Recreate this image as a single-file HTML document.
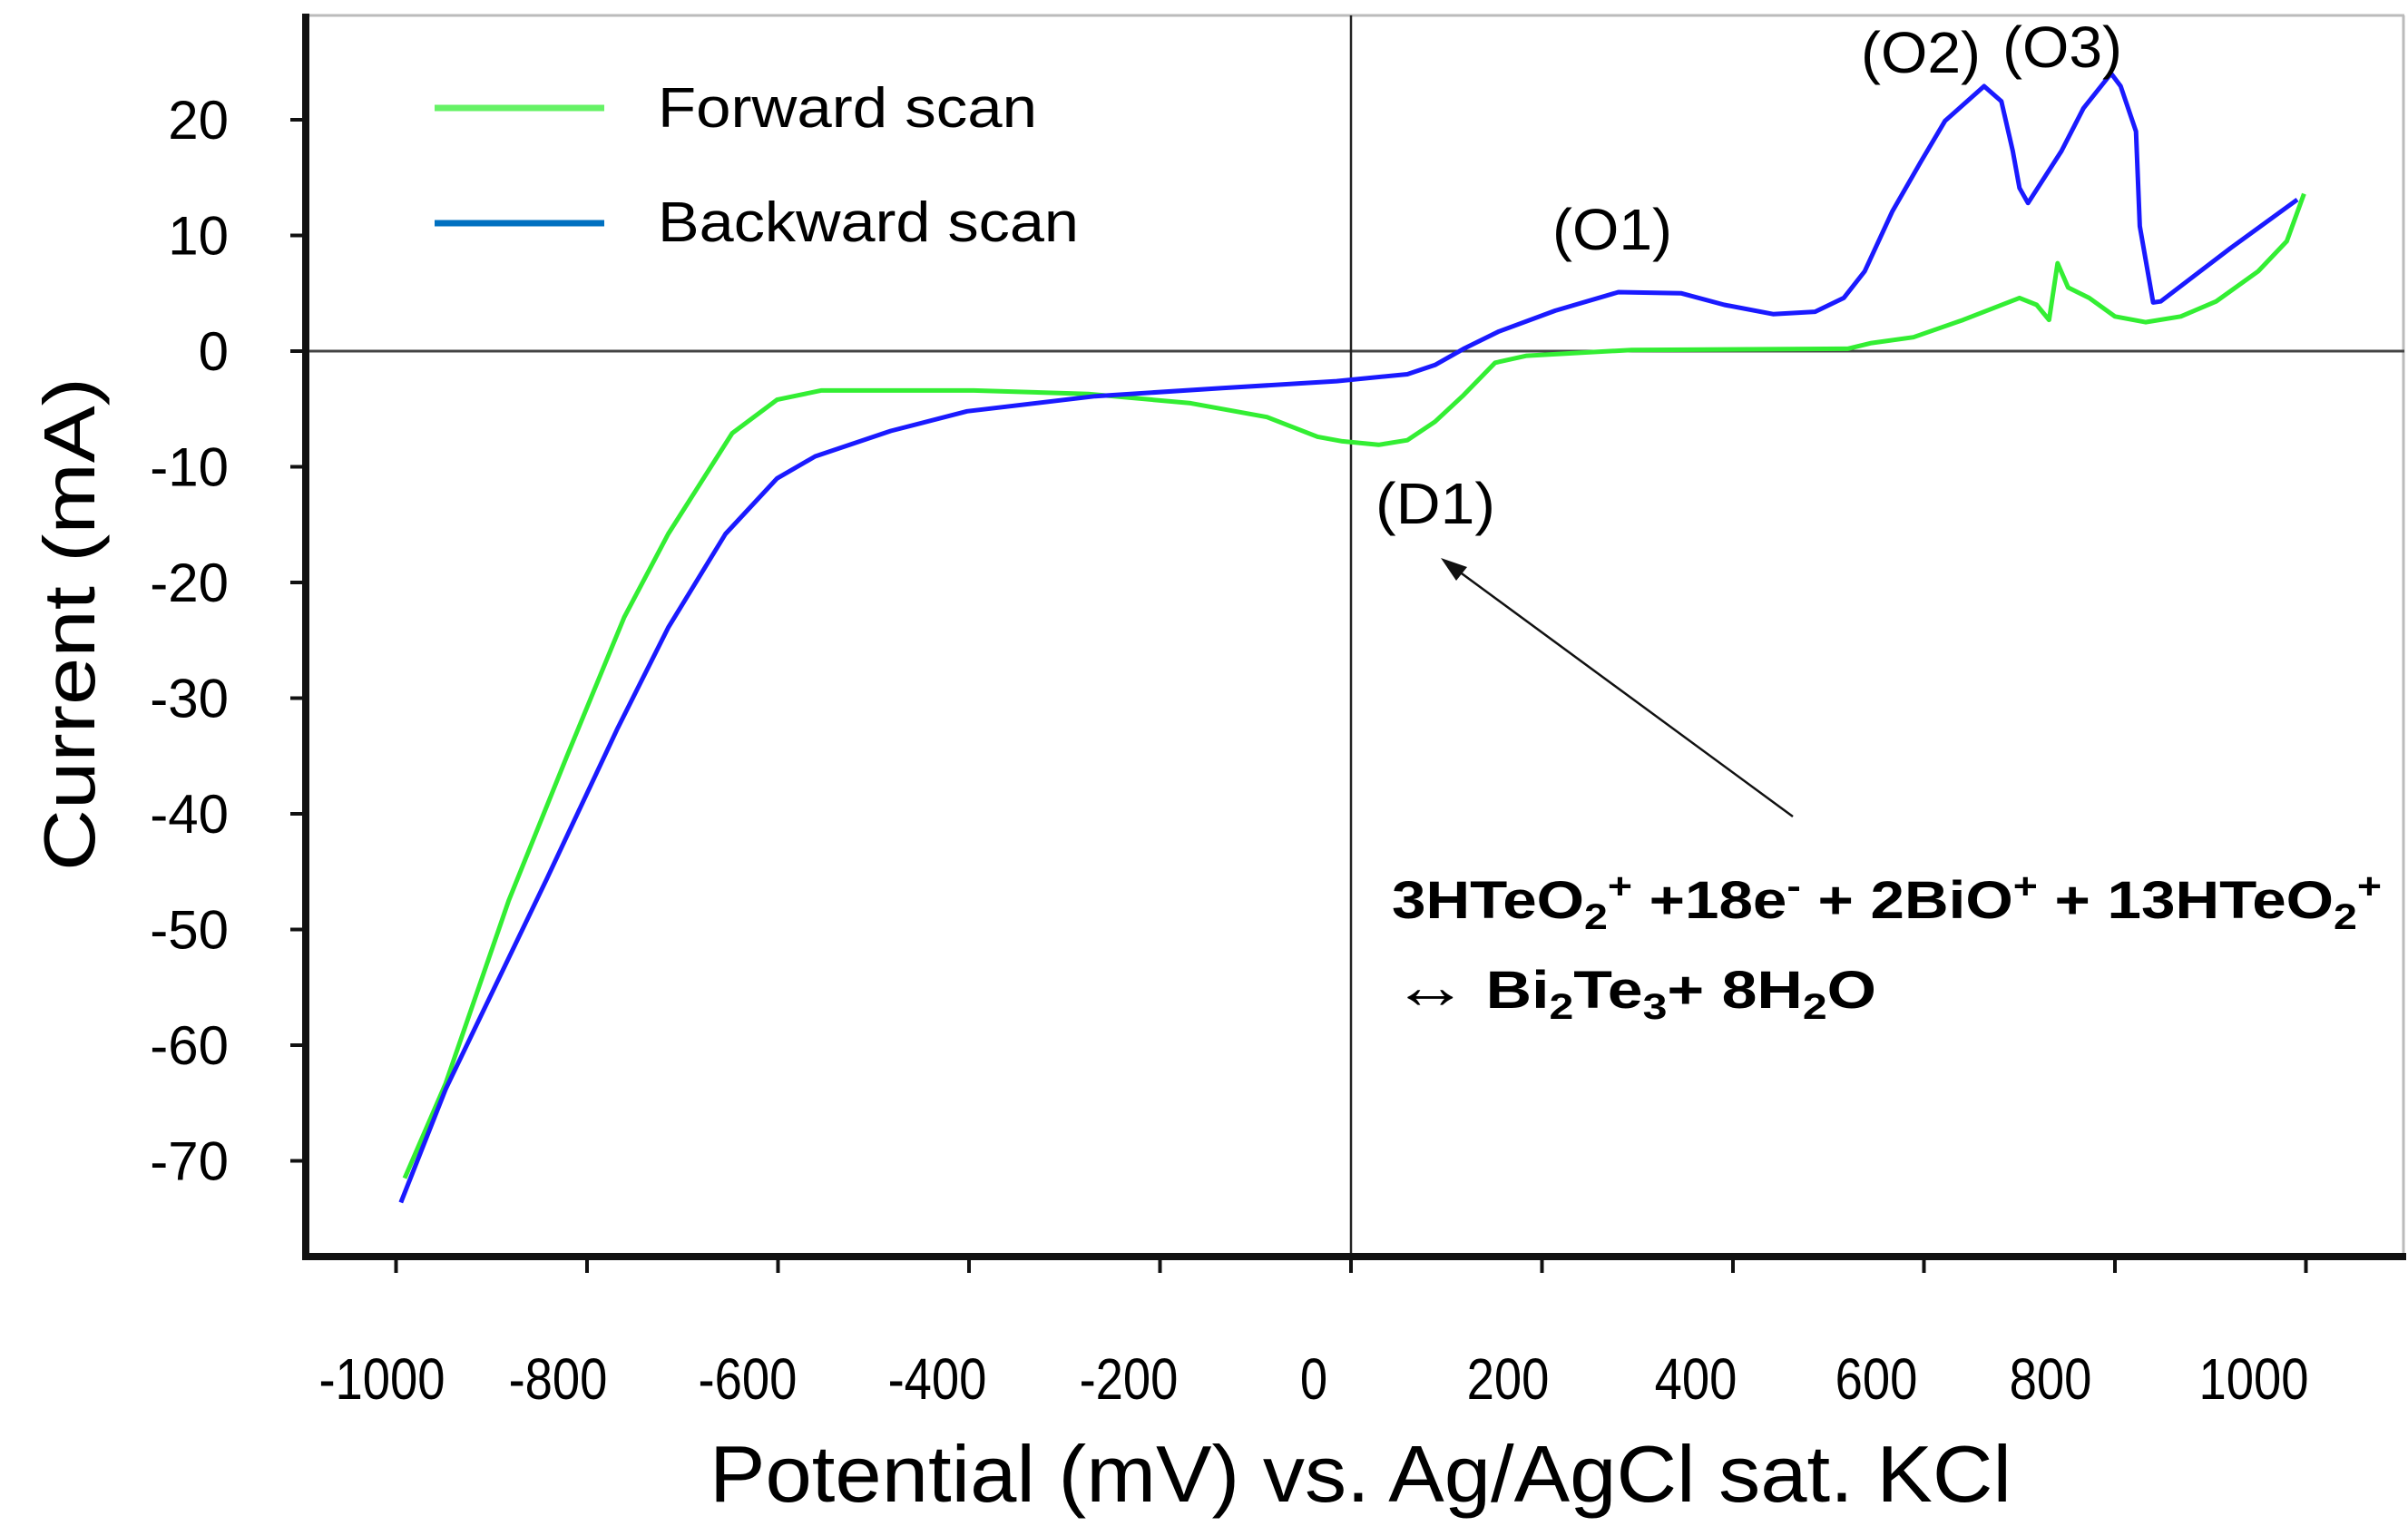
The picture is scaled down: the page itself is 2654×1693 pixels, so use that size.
<!DOCTYPE html>
<html><head><meta charset="utf-8"><style>
html,body{margin:0;padding:0;background:#fff;}
svg{display:block;font-family:"Liberation Sans",sans-serif;}
</style></head><body>
<svg id="chart" width="2654" height="1693" viewBox="0 0 2654 1693" xmlns="http://www.w3.org/2000/svg">
<rect x="0" y="0" width="2654" height="1693" fill="#fff"/>
<line x1="337" y1="17" x2="2650" y2="17" stroke="#bbb" stroke-width="3"/>
<line x1="2649" y1="17" x2="2649" y2="1385" stroke="#bbb" stroke-width="3"/>
<line x1="337" y1="387" x2="2650" y2="387" stroke="#444" stroke-width="3"/>
<line x1="1489" y1="17" x2="1489" y2="1385" stroke="#222" stroke-width="2.5"/>
<g id="ticks"></g>
<g id="series"></g>
<line x1="337" y1="15" x2="337" y2="1389" stroke="#111" stroke-width="8"/>
<line x1="333" y1="1385" x2="2652" y2="1385" stroke="#111" stroke-width="8"/>
<g>
<line x1="479" y1="119" x2="666" y2="119" stroke="#66f266" stroke-width="7"/>
<text x="725" y="140" font-size="62" textLength="418" lengthAdjust="spacingAndGlyphs">Forward scan</text>
<line x1="479" y1="246" x2="666" y2="246" stroke="#0070c0" stroke-width="7"/>
<text x="725" y="266" font-size="62" textLength="464" lengthAdjust="spacingAndGlyphs">Backward scan</text>
</g>
<text x="1777" y="275" font-size="64" text-anchor="middle" textLength="132" lengthAdjust="spacingAndGlyphs">(O1)</text>
<text x="2117" y="80" font-size="64" text-anchor="middle" textLength="132" lengthAdjust="spacingAndGlyphs">(O2)</text>
<text x="2273" y="74" font-size="64" text-anchor="middle" textLength="132" lengthAdjust="spacingAndGlyphs">(O3)</text>
<text x="1582" y="577" font-size="64" text-anchor="middle" textLength="132" lengthAdjust="spacingAndGlyphs">(D1)</text>
<g>
<line x1="1976" y1="900" x2="1600" y2="624" stroke="#111" stroke-width="2.5"/>
<polygon points="1588,615 1617,625 1605,640" fill="#111"/>
</g>
<text x="1534" y="1012" font-size="58" font-weight="bold" textLength="1091" lengthAdjust="spacingAndGlyphs">3HTeO<tspan font-size="40" dy="12">2</tspan><tspan font-size="40" dy="-34">+</tspan><tspan dy="22"> +18e</tspan><tspan font-size="40" dy="-22">-</tspan><tspan dy="22"> + 2BiO</tspan><tspan font-size="40" dy="-22">+</tspan><tspan dy="22"> + 13HTeO</tspan><tspan font-size="40" dy="12">2</tspan><tspan font-size="40" dy="-34">+</tspan></text>
<text x="1534" y="1111" font-size="58" font-weight="bold" textLength="534" lengthAdjust="spacingAndGlyphs"><tspan font-weight="normal" font-size="70">↔</tspan> Bi<tspan font-size="40" dy="12">2</tspan><tspan dy="-12">Te</tspan><tspan font-size="40" dy="12">3</tspan><tspan dy="-12">+ 8H</tspan><tspan font-size="40" dy="12">2</tspan><tspan dy="-12">O</tspan></text>
<text x="782" y="1655" font-size="88" textLength="1435" lengthAdjust="spacingAndGlyphs">Potential (mV) vs. Ag/AgCl sat. KCl</text>
<text transform="translate(104,960) rotate(-90)" font-size="80" textLength="544" lengthAdjust="spacingAndGlyphs">Current (mA)</text>
</svg>
<script>
const xTicks = [-1000,-800,-600,-400,-200,0,200,400,600,800,1000];
const xTickLabelPos = [421,615,824,1033,1244,1448,1662,1869,2068,2260,2484];
const yTicks = [20,10,0,-10,-20,-30,-40,-50,-60,-70];
const fwdV = [-991,-948,-882,-821,-761,-715,-648,-601,-555,-395,-275,-168,-88,-35,-9,29,59,88,118,151,184,294,520,545,589,641,700,718,731,740,751,773,800,832,869,906,950,980,998];
const fwdI = [-71.5,-63.3,-47.5,-35,-23,-15.8,-7.1,-4.2,-3.4,-3.4,-3.7,-4.5,-5.7,-7.4,-7.8,-8.1,-7.7,-6.1,-3.8,-1.0,-0.4,0.1,0.2,0.7,1.2,2.7,4.6,4.0,2.7,7.6,5.5,4.6,3.0,2.5,3.0,4.3,6.9,9.5,13.6];
const bwdV = [991,921,848,840,826,822,806,796,767,744,709,700,693,681,663,622,597,567,538,516,486,442,391,346,280,214,155,118,88,59,-15,-135,-268,-402,-482,-561,-601,-655,-715,-768,-842,-948,-995];
const bwdI = [13.1,8.9,4.3,4.2,10.8,19,22.9,24,21,17.3,12.8,14.1,17.3,21.6,22.9,19.9,16.4,12.1,6.9,4.6,3.4,3.2,4.0,5.0,5.1,3.5,1.7,0.2,-1.2,-2.0,-2.6,-3.2,-3.9,-5.2,-6.9,-9.1,-11,-15.8,-23.9,-32.6,-45.6,-63.8,-73.6];
const NS = 'http://www.w3.org/2000/svg';
function xs(v){return 1489 + v*1.0525;}
function ys(i){return 387 - 12.75*i;}
const tg = document.getElementById('ticks');
xTicks.forEach((v,k)=>{
  const l = document.createElementNS(NS,'line');
  l.setAttribute('x1',xs(v));l.setAttribute('x2',xs(v));l.setAttribute('y1',1385);l.setAttribute('y2',1403);
  l.setAttribute('stroke','#111');l.setAttribute('stroke-width',4);
  
  
  tg.appendChild(l);
  const t = document.createElementNS(NS,'text');
  t.setAttribute('x',xTickLabelPos[k]);t.setAttribute('y',1542);
  t.setAttribute('font-size',64);t.setAttribute('text-anchor','middle');
  t.setAttribute('transform','translate('+xTickLabelPos[k]+',0) scale(0.85,1) translate('+(-xTickLabelPos[k])+',0)');
  t.textContent = String(v);
  
  
  tg.appendChild(t);
});
yTicks.forEach(v=>{
  const l = document.createElementNS(NS,'line');
  l.setAttribute('x1',320);l.setAttribute('x2',337);l.setAttribute('y1',ys(v));l.setAttribute('y2',ys(v));
  l.setAttribute('stroke','#111');l.setAttribute('stroke-width',4);
  
  
  tg.appendChild(l);
  const t = document.createElementNS(NS,'text');
  t.setAttribute('x',252);t.setAttribute('y',ys(v)+21);
  t.setAttribute('font-size',60);t.setAttribute('text-anchor','end');
  t.textContent = String(v);
  
  
  tg.appendChild(t);
});
const sg = document.getElementById('series');
function addLine(V,I,color,name){
  const p = document.createElementNS(NS,'polyline');
  p.setAttribute('points', V.map((v,k)=>xs(v).toFixed(1)+','+ys(I[k]).toFixed(1)).join(' '));
  p.setAttribute('fill','none');p.setAttribute('stroke',color);p.setAttribute('stroke-width',5);
  p.setAttribute('stroke-linejoin','round');
  
  
  sg.appendChild(p);
}
addLine(fwdV,fwdI,'#33ee33','forward-scan-line');
addLine(bwdV,bwdI,'#1a1aff','backward-scan-line');
</script>
</body></html>
